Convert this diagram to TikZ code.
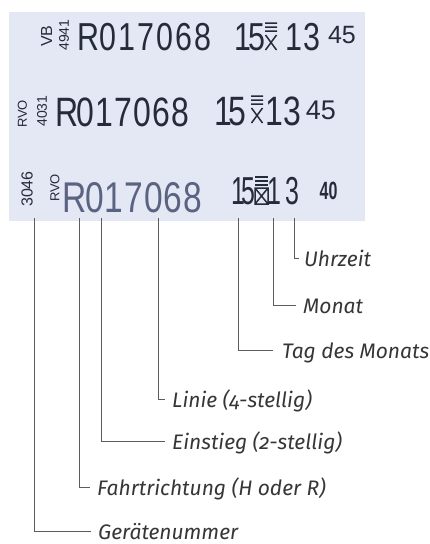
\documentclass[tikz,border=0pt]{standalone}
\usepackage{fontspec}
\setmainfont{Fira Sans}[Numbers=OldStyle]
\newfontfamily\stampfont{Liberation Sans}[FakeStretch=0.78]
\newfontfamily\stampnarrowfont{Liberation Sans}[FakeStretch=0.64]
\newfontfamily\stampsmallfont{Liberation Sans}

% one glyph per fixed-width cell, like the wheels of a ticket stamp
\makeatletter
\newcommand\stampcells[2]{\@tfor\stamp@c:=#2\do{\makebox[#1][c]{\stamp@c}}}
\makeatother

\definecolor{paper}{HTML}{E4E7F4}
\definecolor{ink}{HTML}{262B3A}
\definecolor{fadedink}{HTML}{5A6380}
\definecolor{leader}{HTML}{5C5C5C}
\definecolor{labeltext}{HTML}{363636}

\tikzset{
  stamprow/.style={inner sep=0pt, anchor=base west, text=ink},
  stampdigit/.style={inner sep=0pt, anchor=base, text=ink},
  sidecode/.style={inner sep=0pt, rotate=90, text=ink,
    font=\stampsmallfont\fontsize{#1}{#1}\selectfont},
  sidecode/.default=14,
  explain/.style={inner sep=0pt, anchor=west, text=labeltext,
    text height=17.5pt, text depth=0pt,
    font=\itshape\fontsize{21}{21}\selectfont},
  leaderline/.style={draw=leader, line width=0.9pt},
  pics/monthmark/.style={code={
    \draw[ink, line width=1.5pt] (0,0)--(12,0) (0,4)--(12,4) (0,8)--(12,8)
      (0.5,12)--(11.5,27) (11.5,12)--(0.5,27);}},
  pics/monthbox/.style={code={
    \draw[ink, line width=1.5pt] (0,0)--(13,0) (0,4)--(13,4) (0,8)--(13,8);
    \draw[ink, line width=1.5pt] (0,11) rectangle (13,27)
      (0,11)--(13,27) (13,11)--(0,27);}},
}

\begin{document}
\begin{tikzpicture}[x=1pt, y=-1pt]
\useasboundingbox (0,0) rectangle (430,544);

% the printed ticket strip
\fill[paper] (9,12) rectangle (365,221);

% ---- first imprint ----
\node[sidecode=16] (c1a) at (46.5,36) {VB};
\node[sidecode] (c1b) at (64,35) {4941};
\node[stamprow, font=\stampfont\fontsize{39}{39}\selectfont] (n1)
  at (79,50) {\stampcells{19pt}{R017068}};
\begin{scope}[every node/.style={stampdigit, font=\stampfont\fontsize{39}{39}\selectfont}]
  \node (d1a) at (242.5,50) {1};
  \node (d1b) at (256.5,50) {5};
  \node (h1a) at (294,50) {1};
  \node (h1b) at (311.5,50) {3};
\end{scope}
\pic at (265,23) {monthmark};
\node[stampdigit, font=\stampsmallfont\fontsize{25}{25}\selectfont] (m1)
  at (342,43) {45};

% ---- second imprint ----
\node[sidecode=13] (c2a) at (22.5,114) {RVO};
\node[sidecode] (c2b) at (42,111) {4031};
\node[stamprow, font=\stampfont\fontsize{41}{41}\selectfont] (n2)
  at (57,126) {\stampcells{19pt}{R017068}};
\begin{scope}[every node/.style={stampdigit, font=\stampfont\fontsize{41}{41}\selectfont}]
  \node (d2a) at (223.5,125) {1};
  \node (d2b) at (237.5,125) {5};
  \node (h2a) at (274.5,125) {1};
  \node (h2b) at (292.5,125) {3};
\end{scope}
\pic at (251,96) {monthmark};
\node[stampdigit, font=\stampsmallfont\fontsize{27}{27}\selectfont] (m2)
  at (321,119) {45};

% ---- third imprint (leaders point here) ----
\node[sidecode=16] (c3a) at (27,189) {3046};
\node[sidecode=13] (c3b) at (55,188) {RVO};
\node[stamprow, text=fadedink, font=\stampfont\fontsize{43}{43}\selectfont] (n3)
  at (65,212) {\stampcells{19.6pt}{R017068}};
\begin{scope}[every node/.style={stampdigit, font=\stampnarrowfont\fontsize{39}{39}\selectfont}]
  \node (d3a) at (238.5,204) {1};
  \node (d3b) at (248.5,204) {5};
  \node (h3a) at (274,204) {1};
  \node (h3b) at (292,204) {3};
\end{scope}
\pic at (255,177) {monthbox};
\node[stampdigit, font=\stampnarrowfont\bfseries\fontsize{25}{25}\selectfont] (m3)
  at (328.5,199) {40};

% ---- explanations ----
\node[explain] (lUhr)  at (304,258) {Uhrzeit};
\node[explain] (lMon)  at (303,305) {Monat};
\node[explain] (lTag)  at (282,350) {Tag des Monats};
\node[explain] (lLin)  at (172,399) {Linie (4-stellig)};
\node[explain] (lEin)  at (172,441) {Einstieg (2-stellig)};
\node[explain] (lFahr) at (97,487)  {Fahrtrichtung (H oder R)};
\node[explain] (lGer)  at (98,531)  {Gerätenummer};

% where each leader leaves the imprint
\coordinate (tUhr)  at (294,218);
\coordinate (tMon)  at (273,218);
\coordinate (tTag)  at (238,218);
\coordinate (tLin)  at (158,218);
\coordinate (tEin)  at (101,218);
\coordinate (tFahr) at (79,218);
\coordinate (tGer)  at (34,218);

\draw[leaderline] (tUhr)  |- ([xshift=-5pt]lUhr.west);
\draw[leaderline] (tMon)  |- ([xshift=-7pt]lMon.west);
\draw[leaderline] (tTag)  |- ([xshift=-9pt]lTag.west);
\draw[leaderline] (tLin)  |- ([xshift=-7pt]lLin.west);
\draw[leaderline] (tEin)  |- ([xshift=-7pt]lEin.west);
\draw[leaderline] (tFahr) |- ([xshift=-7pt]lFahr.west);
\draw[leaderline] (tGer)  |- ([xshift=-7pt]lGer.west);
\end{tikzpicture}
\end{document}
